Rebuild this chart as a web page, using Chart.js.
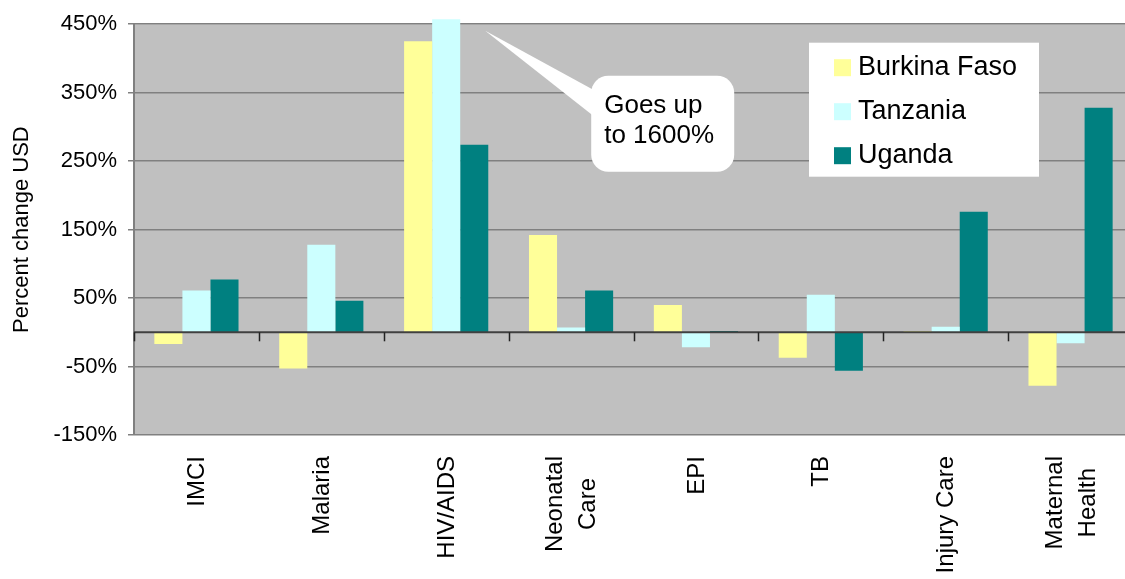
<!DOCTYPE html>
<html>
<head>
<meta charset="utf-8">
<script src="https://cdn.jsdelivr.net/npm/chart.js@4"></script>
<style>
    html, body { margin: 0; padding: 0; background: #fff; overflow: hidden; }
    #wrap { width: 1125px; height: 579px; overflow: hidden; }
</style>
</head>
<body>
<div id="wrap"><canvas id="costChart" width="1135" height="579"></canvas></div>
<script>
// Данные
const categories = ['IMCI', 'Malaria', 'HIV/AIDS', ['Neonatal', 'Care'], 'EPI', 'TB', 'Injury Care', ['Maternal', 'Health']];
const seriesNames = ['Burkina Faso', 'Tanzania', 'Uganda'];
const burkinaFaso = [-17, -53, 425, 142, 40, -37, 2, -78];
const tanzania = [61, 128, 1600, 7, -22, 55, 8, -16];
const uganda = [77, 46, 274, 61, 2, -56, 176, 328];
const yTicks = [-150, -50, 50, 150, 250, 350, 450];
const calloutText = ['Goes up', 'to 1600%'];

const COLORS = ['#FFFF99', '#CCFFFF', '#008080'];
const FONT = '"Liberation Sans", Arial, sans-serif';

// Серый фон области графика
const plotBg = {
    id: 'plotBg',
    beforeDraw(chart) {
        const { ctx, chartArea: a } = chart;
        ctx.save();
        ctx.fillStyle = '#C0C0C0';
        ctx.fillRect(a.left, a.top, a.right - a.left, a.bottom - a.top);
        ctx.restore();
    }
};

// Линия нуля и засечки категорий
const zeroAxis = {
    id: 'zeroAxis',
    afterDatasetsDraw(chart) {
        const { ctx, chartArea: a, scales } = chart;
        const y0 = scales.y.getPixelForValue(0);
        ctx.save();
        ctx.strokeStyle = '#404040';
        ctx.lineWidth = 2;
        ctx.beginPath();
        ctx.moveTo(a.left, y0);
        ctx.lineTo(a.right, y0);
        ctx.stroke();
        ctx.lineWidth = 1.5;
        ctx.strokeStyle = '#222';
        const step = (a.right - a.left) / categories.length;
        for (let i = 0; i <= categories.length; i++) {
            const x = Math.round(scales.x.getPixelForValue(i) - step / 2) + 0.5;
            ctx.beginPath();
            ctx.moveTo(x, y0);
            ctx.lineTo(x, y0 + 9);
            ctx.stroke();
        }
        ctx.restore();
    }
};

// Подписи категорий, повернутые на 90°
const catLabels = {
    id: 'catLabels',
    afterDraw(chart) {
        const { ctx, scales } = chart;
        const top = 456;
        const lineH = 33;
        ctx.save();
        ctx.font = '24px ' + FONT;
        ctx.fillStyle = '#000';
        ctx.textBaseline = 'middle';
        ctx.textAlign = 'center';
        categories.forEach((lab, i) => {
            const lines = Array.isArray(lab) ? lab : [lab];
            const maxW = Math.max(...lines.map(l => ctx.measureText(l).width));
            const cx = scales.x.getPixelForValue(i);
            ctx.save();
            ctx.translate(cx, top);
            ctx.rotate(-Math.PI / 2);
            lines.forEach((l, k) => {
                const off = (k - (lines.length - 1) / 2) * lineH;
                ctx.fillText(l, -maxW / 2, off + 1);
            });
            ctx.restore();
        });
        ctx.restore();
    }
};

// Легенда внутри области графика
const boxLegend = {
    id: 'boxLegend',
    afterDraw(chart) {
        const { ctx, chartArea: a } = chart;
        const bx = a.left + 675, by = a.top + 18.5, bw = 230, bh = 134;
        ctx.save();
        ctx.fillStyle = '#fff';
        ctx.fillRect(bx, by, bw, bh);
        ctx.font = '27px ' + FONT;
        ctx.textBaseline = 'alphabetic';
        ctx.textAlign = 'left';
        chart.data.datasets.forEach((ds, i) => {
            const cy = by + 25 + i * 44;
            ctx.fillStyle = ds.backgroundColor;
            ctx.fillRect(bx + 25, cy - 8.5, 17, 17);
            ctx.fillStyle = '#000';
            ctx.fillText(ds.label, bx + 49, cy + 7);
        });
        ctx.restore();
    }
};

// Выноска "Goes up to 1600%"
const callout = {
    id: 'callout',
    afterDraw(chart) {
        const { ctx, chartArea: a } = chart;
        const bar = chart.getDatasetMeta(1).data[2];
        const tipX = bar.x + bar.width / 2 + 25;
        const tipY = a.top + 6.5;
        const bx = tipX + 106, by = a.top + 51.5, bw = 143, bh = 96, r = 17;
        ctx.save();
        ctx.fillStyle = '#fff';
        ctx.beginPath();
        ctx.moveTo(tipX, tipY);
        ctx.lineTo(bx + 2, by + 14);
        ctx.lineTo(bx + 2, by + 40);
        ctx.closePath();
        ctx.fill();
        ctx.beginPath();
        ctx.roundRect(bx, by, bw, bh, r);
        ctx.fill();
        ctx.fillStyle = '#000';
        ctx.font = '26px ' + FONT;
        ctx.textAlign = 'left';
        ctx.textBaseline = 'alphabetic';
        calloutText.forEach((t, k) => {
            ctx.fillText(t, bx + 13, by + 37 + k * 30);
        });
        ctx.restore();
    }
};

const ctx = document.getElementById('costChart').getContext('2d');
const chart = new Chart(ctx, {
    type: 'bar',
    data: {
        labels: categories,
        datasets: [
            { label: seriesNames[0], data: burkinaFaso, backgroundColor: COLORS[0] },
            { label: seriesNames[1], data: tanzania, backgroundColor: COLORS[1] },
            { label: seriesNames[2], data: uganda, backgroundColor: COLORS[2] }
        ]
    },
    options: {
        responsive: false,
        animation: false,
        devicePixelRatio: 1,
        layout: { padding: { top: 24, right: 2, left: 0, bottom: 0 } },
        datasets: {
            bar: {
                categoryPercentage: 0.674,
                barPercentage: 1,
                borderWidth: 0,
                clip: { left: 0, top: 5, right: 0, bottom: 0 }
            }
        },
        plugins: {
            legend: { display: false },
            tooltip: { enabled: false }
        },
        scales: {
            x: {
                offset: true,
                grid: { display: false },
                border: { display: false },
                ticks: { display: false },
                afterFit: (s) => { s.height = 144; }
            },
            y: {
                min: -150,
                max: 450,
                afterBuildTicks: (s) => { s.ticks = yTicks.map(v => ({ value: v })); },
                ticks: {
                    color: '#000',
                    font: { family: FONT, size: 22 },
                    padding: 11,
                    callback: (v) => v + '%'
                },
                grid: { color: '#808080', lineWidth: 1.5, tickLength: 6, drawTicks: true },
                border: { display: true, color: '#808080', width: 2 },
                title: {
                    display: true,
                    text: 'Percent change USD',
                    color: '#000',
                    font: { family: FONT, size: 22 },
                    padding: { top: 9, bottom: 0 }
                },
                afterFit: (s) => { s.width = 134; }
            }
        }
    },
    plugins: [plotBg, zeroAxis, catLabels, boxLegend, callout]
});
</script>
</body>
</html>
